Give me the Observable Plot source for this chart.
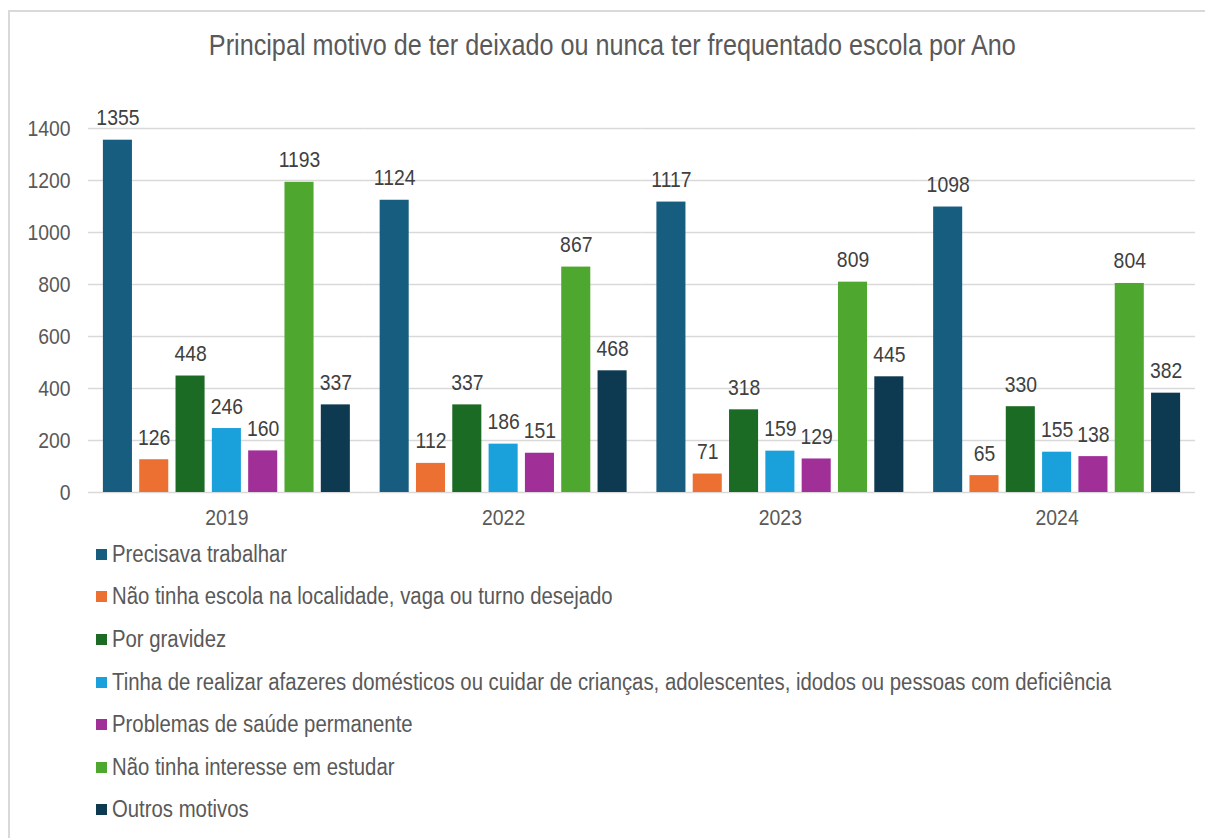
<!DOCTYPE html>
<html>
<head>
<meta charset="utf-8">
<script src="https://cdn.jsdelivr.net/npm/d3@7"></script>
<script src="https://cdn.jsdelivr.net/npm/@observablehq/plot@0.6"></script>
<style>
  html, body { margin: 0; padding: 0; background: #fff; }
  body { width: 1205px; height: 838px; position: relative; overflow: hidden;
         font-family: "Liberation Sans", Arial, sans-serif; }
  #frame { position: absolute; left: 8px; top: 10px; width: 1200px; height: 840px;
           border-left: 2px solid #d9d9d9; border-top: 2px solid #d9d9d9; }
  #title { position: absolute; left: 0; width: 1225px; top: 27px; text-align: center;
           font-size: 30px; color: #595959; line-height: 36px; white-space: nowrap; }
  #title span { display: inline-block; transform: scaleX(0.84); transform-origin: center; }
  #chart { position: absolute; left: 0; top: 80px; }
  #legend { position: absolute; left: 96px; top: 533px; }
  .item { height: 42.6px; display: flex; align-items: center; font-size: 23.5px; color: #595959; white-space: nowrap; }
  .sw { width: 11px; height: 11px; margin-right: 5px; flex: none; }
  .tx { display: inline-block; transform: scaleX(0.865); transform-origin: left center; }
</style>
</head>
<body>
<div id="frame"></div>
<div id="title"><span>Principal motivo de ter deixado ou nunca ter frequentado escola por Ano</span></div>
<div id="chart"></div>
<div id="legend"></div>
<script>
const years = ["2019", "2022", "2023", "2024"];
const motivos = [
  "Precisava trabalhar",
  "Não tinha escola na localidade, vaga ou turno desejado",
  "Por gravidez",
  "Tinha de realizar afazeres domésticos ou cuidar de crianças, adolescentes, idodos ou pessoas com deficiência",
  "Problemas de saúde permanente",
  "Não tinha interesse em estudar",
  "Outros motivos"
];
const colors = ["#175d80", "#ec7031", "#1b6b24", "#1aa0da", "#a02f98", "#4ea72e", "#0d3a50"];
const values2019 = [1355, 126, 448, 246, 160, 1193, 337];
const values2022 = [1124, 112, 337, 186, 151, 867, 468];
const values2023 = [1117, 71, 318, 159, 129, 809, 445];
const values2024 = [1098, 65, 330, 155, 138, 804, 382];
const yTicks = [0, 200, 400, 600, 800, 1000, 1200, 1400];

const series = [values2019, values2022, values2023, values2024];
const data = [];
years.forEach((yr, i) => motivos.forEach((m, j) => data.push({year: yr, motivo: m, value: series[i][j]})));

const font = '"Liberation Sans", Arial, sans-serif';

const chart = Plot.plot({
  width: 1205,
  height: 452,
  marginLeft: 88,
  marginRight: 10,
  marginTop: 48,
  marginBottom: 40,
  style: {fontFamily: font, fontSize: "22px", color: "#595959", background: "transparent"},
  fx: {domain: years, padding: 0, round: false, label: null, axis: null},
  x: {domain: motivos, paddingInner: 0.2, paddingOuter: 0.41, round: false, axis: null},
  y: {domain: [0, 1400], ticks: yTicks, label: null, grid: false},
  color: {domain: motivos, range: colors},
  marks: [
    Plot.ruleY(yTicks, {stroke: "#d9d9d9", strokeWidth: 1.6}),
    Plot.axisY({ticks: yTicks, tickFormat: d => String(d), tickSize: 0, tickPadding: 18, label: null, fill: "#595959", fontSize: 22}),
    Plot.axisFx({anchor: "bottom", tickSize: 0, tickPadding: 17, label: null, fill: "#595959", fontSize: 22}),
    Plot.barY(data, {fx: "year", x: "motivo", y: "value", fill: "motivo"}),
    Plot.text(data, {fx: "year", x: "motivo", y: "value", text: d => String(d.value),
      lineAnchor: "bottom", dy: -15, fill: "#404040", fontSize: 22})
  ]
});
document.getElementById("chart").appendChild(chart);

// condense SVG text to mimic a narrow typeface
chart.querySelectorAll("text").forEach(t => {
  const spans = t.querySelectorAll("tspan");
  const targets = spans.length ? Array.from(spans) : [t];
  targets.forEach(el => {
    const len = el.getComputedTextLength();
    if (len > 0) {
      el.setAttribute("textLength", (len * 0.88).toFixed(1));
      el.setAttribute("lengthAdjust", "spacingAndGlyphs");
    }
  });
});

const legend = document.getElementById("legend");
motivos.forEach((m, i) => {
  const it = document.createElement("div");
  it.className = "item";
  const sw = document.createElement("span");
  sw.className = "sw";
  sw.style.background = colors[i];
  const tx = document.createElement("span");
  tx.className = "tx";
  tx.textContent = m;
  it.appendChild(sw);
  it.appendChild(tx);
  legend.appendChild(it);
});
</script>
</body>
</html>
